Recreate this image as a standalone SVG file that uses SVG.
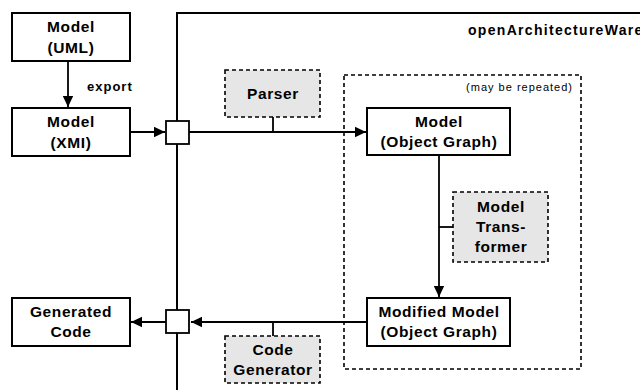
<svg xmlns="http://www.w3.org/2000/svg" width="640" height="390" viewBox="0 0 640 390">
  <style>
    .box { fill: #ffffff; stroke: #000000; stroke-width: 2; }
    .tool { fill: #e6e6e6; stroke: #000000; stroke-width: 1.6; stroke-dasharray: 4 3; }
    .group { fill: none; stroke: #000000; stroke-width: 1.6; stroke-dasharray: 4 3; }
    .frame { fill: none; stroke: #000000; stroke-width: 2; }
    .port { fill: #ffffff; stroke: #000000; stroke-width: 1.8; }
    .edge { fill: none; stroke: #000000; stroke-width: 1.8; }
    .label { font-family: "Liberation Sans", Arial, sans-serif; font-size: 15.5px; font-weight: bold; letter-spacing: 0.6px; text-anchor: middle; fill: #000000; }
    .small { font-family: "Liberation Sans", Arial, sans-serif; font-size: 13px; font-weight: bold; letter-spacing: 1px; fill: #000000; }
    .note { font-family: "Liberation Sans", Arial, sans-serif; font-size: 11px; letter-spacing: 1px; text-anchor: end; fill: #000000; }
    .title { font-family: "Liberation Sans", Arial, sans-serif; font-size: 14px; font-weight: bold; letter-spacing: 1.3px; fill: #000000; }
  </style>
  <defs>
    <marker id="arrow" markerUnits="userSpaceOnUse" markerWidth="12" markerHeight="12" viewBox="0 0 12 12" refX="11" refY="6" orient="auto">
      <path d="M0,0.8 L11,6 L0,11.2 Z" fill="#000000"/>
    </marker>
  </defs>

  <!-- openArchitectureWare frame -->
  <g id="frame">
    <path class="frame" d="M177,390 L177,13 L640,13"/>
    <text class="title" x="468" y="35">openArchitectureWare</text>
  </g>

  <!-- repeated transformation block -->
  <g id="repeat-group">
    <rect class="group" x="344" y="75" width="237" height="294"/>
    <text class="note" x="573" y="91">(may be repeated)</text>
  </g>

  <!-- connectors -->
  <g id="connectors">
    <line class="edge" x1="68" y1="61" x2="68" y2="107" marker-end="url(#arrow)"/>
    <text class="small" x="87" y="91">export</text>
    <line class="edge" x1="130" y1="132" x2="165" y2="132" marker-end="url(#arrow)"/>
    <line class="edge" x1="189" y1="132" x2="366" y2="132" marker-end="url(#arrow)"/>
    <line class="edge" x1="273" y1="117" x2="273" y2="132"/>
    <line class="edge" x1="439" y1="156" x2="439" y2="297" marker-end="url(#arrow)"/>
    <line class="edge" x1="439" y1="227" x2="453" y2="227"/>
    <line class="edge" x1="367" y1="322" x2="191" y2="322" marker-end="url(#arrow)"/>
    <line class="edge" x1="273" y1="322" x2="273" y2="336"/>
    <line class="edge" x1="166" y1="322" x2="131" y2="322" marker-end="url(#arrow)"/>
  </g>

  <!-- junction ports on the frame border -->
  <g id="port-in">
    <rect class="port" x="166" y="121" width="23" height="23"/>
  </g>
  <g id="port-out">
    <rect class="port" x="166" y="310" width="23" height="23"/>
  </g>

  <g id="model-uml">
    <rect class="box" x="12" y="13" width="118" height="48"/>
    <text class="label" x="71" y="31.5">Model</text>
    <text class="label" x="71" y="52.5">(UML)</text>
  </g>

  <g id="model-xmi">
    <rect class="box" x="12" y="108" width="118" height="48"/>
    <text class="label" x="71" y="126.5">Model</text>
    <text class="label" x="71" y="147.5">(XMI)</text>
  </g>

  <g id="generated-code">
    <rect class="box" x="12" y="298" width="118" height="48"/>
    <text class="label" x="71" y="317">Generated</text>
    <text class="label" x="71" y="337">Code</text>
  </g>

  <g id="parser">
    <rect class="tool" x="225" y="70" width="95" height="47"/>
    <text class="label" x="273" y="99">Parser</text>
  </g>

  <g id="code-generator">
    <rect class="tool" x="225" y="336" width="95" height="47"/>
    <text class="label" x="273" y="355">Code</text>
    <text class="label" x="273" y="374.5">Generator</text>
  </g>

  <g id="model-object-graph">
    <rect class="box" x="367" y="108" width="143" height="47"/>
    <text class="label" x="439" y="127">Model</text>
    <text class="label" x="439" y="147">(Object Graph)</text>
  </g>

  <g id="model-transformer">
    <rect class="tool" x="453" y="192" width="95" height="70"/>
    <text class="label" x="501" y="211.5">Model</text>
    <text class="label" x="501" y="232">Trans-</text>
    <text class="label" x="501" y="252">former</text>
  </g>

  <g id="modified-model">
    <rect class="box" x="367" y="298" width="143" height="48"/>
    <text class="label" x="439" y="316.5">Modified Model</text>
    <text class="label" x="439" y="336.5">(Object Graph)</text>
  </g>
</svg>
